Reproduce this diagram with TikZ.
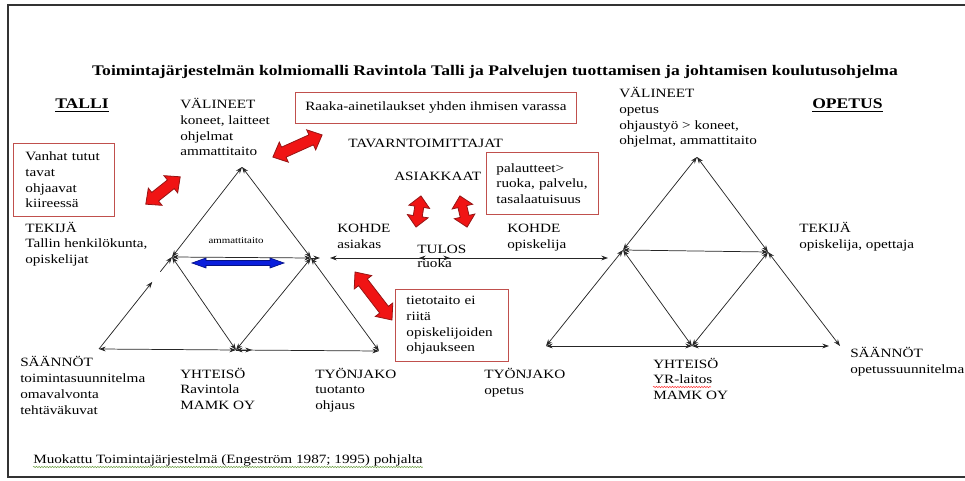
\documentclass[tikz,border=0pt]{standalone}
\usepackage{fontspec}
\setmainfont{Liberation Serif}[FakeStretch = 1.2]
\usetikzlibrary{arrows.meta, calc, decorations.pathmorphing}
\definecolor{boxred}{RGB}{192,80,77}
\definecolor{arrowred}{RGB}{240,20,20}
\definecolor{darkred}{RGB}{150,20,20}
\definecolor{arrowblue}{RGB}{10,30,220}
\definecolor{spellgreen}{RGB}{110,160,70}
% centre, angle, length, shaft half width, head half width, head length, style
\newcommand{\fatarrow}[7]{%
    \begin{scope}[shift = {#1}, rotate = #2]
        \filldraw[#7] (-#3/2,0) -- (-#3/2+#6,#5) -- (-#3/2+#6,#4) -- (#3/2-#6,#4) -- (#3/2-#6,#5) -- (#3/2,0)
            -- (#3/2-#6,-#5) -- (#3/2-#6,-#4) -- (-#3/2+#6,-#4) -- (-#3/2+#6,-#5) -- cycle;
    \end{scope}}
\begin{document}
\begin{tikzpicture}[x = 0.75pt, y = -0.75pt,
        >={Stealth[length = 5pt, width = 3.6pt]},
        txt/.style = {anchor = base west, align = left, inner sep = 0pt, font = \fontsize{9.5}{11.8}\selectfont},
        banner/.style = {anchor = base west, inner sep = 0pt, font = \bfseries\fontsize{11}{13}\selectfont},
        notebox/.style = {draw = boxred, line width = 0.7pt, anchor = north west, align = left, inner ysep = 0pt, font = \fontsize{9.5}{11.8}\selectfont},
        link/.style = {<->, black!85, line width = 0.55pt},
        redarrow/.style = {fill = arrowred, draw = darkred, line width = 0.6pt},
        bluearrow/.style = {fill = arrowblue, draw = arrowblue!60!black, line width = 0.5pt}]
    \useasboundingbox (0,0) rectangle (965,481);
    \draw[line width = 1.5pt, black!80] (965,5) -- (8,5) -- (8,477) -- (965,477);

    \node[font = \bfseries\fontsize{11}{13}\selectfont, anchor = base, inner sep = 0pt] (title) at (495,76)
        {Toimintajärjestelmän kolmiomalli Ravintola Talli ja Palvelujen tuottamisen ja johtamisen koulutusohjelma};
    \node[banner] (talli) at (55,109) {\underline{TALLI}};
    \node[banner] (opetus) at (812,109) {\underline{OPETUS}};

    % vasen kolmio
    \coordinate (L-apex) at (242,167);
    \coordinate (L-lm) at (172,257);
    \coordinate (L-rm) at (311,258);
    \coordinate (L-bl) at (99,349);
    \coordinate (L-bm) at (236,350);
    \coordinate (L-br) at (379,351);
    \foreach \a/\b in {apex/lm, apex/rm, lm/rm, lm/bm, bm/rm, rm/br, bl/bm, bm/br}
        \draw[link] (L-\a) -- (L-\b);
    \draw[link, <-] ($(L-lm)!0.27!(L-bl)$) -- (L-bl);
    \draw[link, ->] ($(L-lm)!0.16!(L-bl)$) -- (L-lm);
    \draw[link, ->] (L-bm) -- ++(16,0);
    \draw[link, ->] (L-rm) -- ++(9,0);

    % oikea kolmio
    \coordinate (R-apex) at (697,157);
    \coordinate (R-lm) at (623,250);
    \coordinate (R-rm) at (768,252);
    \coordinate (R-bl) at (546,346);
    \coordinate (R-bm) at (692,346);
    \coordinate (R-br) at (840,346);
    \foreach \a/\b in {bl/lm, lm/apex, apex/rm, lm/rm, lm/bm, bm/rm, rm/br, bl/bm}
        \draw[link] (R-\a) -- (R-\b);
    \draw[link] (R-bm) -- ($(R-br)+(-11,0)$);

    % kohde ja tulos
    \coordinate (K-asiakas) at (330,258);
    \coordinate (K-opisk) at (608,258);
    \coordinate (T-left) at (419,258);
    \coordinate (T-right) at (450,258);
    \draw[link] (K-asiakas) -- (K-opisk);
    \draw[link] (T-left) -- (T-right);

    % nuolet
    \fatarrow{(163,190.5)}{38.5}{44}{5.5}{11}{12}{redarrow}
    \fatarrow{(297.5,146)}{24.2}{54}{5.5}{11}{12}{redarrow}
    \fatarrow{(418.5,211.5)}{81}{31.5}{4.5}{10.5}{11}{redarrow}
    \fatarrow{(463.5,211.5)}{103}{32}{4.5}{10.5}{11}{redarrow}
    \fatarrow{(373.5,296)}{-52.4}{60.6}{5.5}{11}{13}{redarrow}
    \fatarrow{(238,263)}{0}{92}{2.5}{5}{14}{bluearrow}

    % tekstit vasen (base = viimeisen rivin perusviiva)
    \node[txt] (L-valineet) at (180,156) {VÄLINEET\\koneet, laitteet\\ohjelmat\\ammattitaito};
    \node[notebox, text width = 58pt, inner xsep = 9pt, minimum height = 54.75pt] (vanhat) at (13,143)
        {Vanhat tutut\\tavat\\ohjaavat\\kiireessä};
    \node[txt] (L-tekija) at (25,263.5) {TEKIJÄ\\Tallin henkilökunta,\\opiskelijat};
    \node[txt] (L-saannot) at (20,414) {SÄÄNNÖT\\toimintasuunnitelma\\omavalvonta\\tehtäväkuvat};
    \node[txt] (L-yhteiso) at (180,409.5) {YHTEISÖ\\Ravintola\\MAMK OY};
    \node[txt] (L-tyonjako) at (315,409.5) {TYÖNJAKO\\tuotanto\\ohjaus};
    \node[font = \fontsize{6.8}{8}\selectfont, inner sep = 0pt] (taito) at (236,241) {ammattitaito};

    % tekstit keski
    \node[notebox, minimum width = 210.75pt, minimum height = 23.25pt, align = center] (raaka) at (295,92)
        {Raaka-ainetilaukset yhden ihmisen varassa};
    \node[txt] (toimittajat) at (348,148) {TAVARNTOIMITTAJAT};
    \node[txt] (asiakkaat) at (394,181) {ASIAKKAAT};
    \node[notebox, text width = 69pt, inner xsep = 7.5pt, minimum height = 46.5pt] (palaute) at (486,152)
        {palautteet>\\ruoka, palvelu,\\tasalaatuisuus};
    \node[txt] (kohde-a) at (337,248.5) {KOHDE\\asiakas};
    \node[txt, font = \fontsize{9.5}{10.5}\selectfont] (tulos) at (417,268) {TULOS\\ruoka};
    \node[txt] (kohde-o) at (507,248.5) {KOHDE\\opiskelija};
    \node[notebox, text width = 68pt, inner xsep = 8.25pt, minimum height = 54pt] (tieto) at (395,289)
        {tietotaito ei\\riitä\\opiskelijoiden\\ohjaukseen};

    % tekstit oikea
    \node[txt] (R-valineet) at (619,145) {VÄLINEET\\opetus\\ohjaustyö > koneet,\\ohjelmat, ammattitaito};
    \node[txt] (R-tekija) at (799,248.5) {TEKIJÄ\\opiskelija, opettaja};
    \node[txt] (R-saannot) at (850,373.5) {SÄÄNNÖT\\opetussuunnitelma};
    \node[txt] (R-yhteiso) at (653,399.5) {YHTEISÖ\\YR-laitos\\MAMK OY};
    \node[txt] (R-tyonjako) at (484,394.5) {TYÖNJAKO\\opetus};
    \draw[red!80, decorate, decoration = {snake, amplitude = 0.5pt, segment length = 2pt}] (653,387) -- (711,387);

    \node[txt] (lahde) at (33,463) {Muokattu Toimintajärjestelmä (Engeström 1987; 1995) pohjalta};
    \draw[spellgreen, decorate, decoration = {snake, amplitude = 0.5pt, segment length = 2pt}]
        ($(lahde.base west)+(0,4)$) -- ($(lahde.base east)+(0,4)$);
\end{tikzpicture}
\end{document}
